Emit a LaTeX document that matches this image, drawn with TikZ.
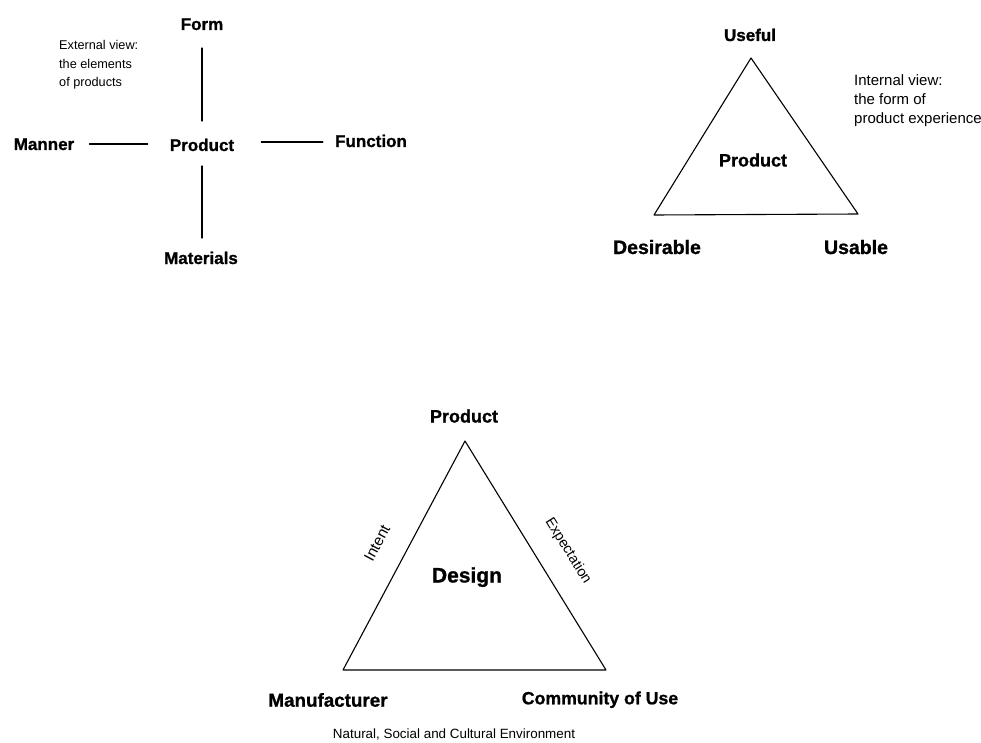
\documentclass[tikz,border=0pt]{standalone}
\usepackage{fontspec}
\usetikzlibrary{calc}
\newfontfamily\heavy{Liberation Sans Bold}[FakeBold=1.0]
\newfontfamily\plainsans{Liberation Sans}
\newcommand{\fs}[1]{\fontsize{#1}{#1}\selectfont}
\tikzset{
  lab/.style={font=\heavy\fs{#1}, inner sep=0pt, anchor=base},
  note/.style={font=\plainsans\fs{#1}, inner sep=0pt, anchor=base west},
  edgelab/.style={font=\plainsans\fs{#1}, inner sep=0pt, anchor=center},
  ln/.style={line width=1.1pt, line cap=round, line join=round},
}
\begin{document}
\begin{tikzpicture}[x=1pt,y=-1pt]
\useasboundingbox (0,0) rectangle (981,743);
\fill[white] (0,0) rectangle (981,743);

% ---------- External view ----------
\node[lab=17] (form) at (202,30) {Form};
\node[lab=17] (manner) at (44,150) {Manner};
\node[lab=17] (prod1) at (202,151) {Product};
\node[lab=17] (func) at (371,147) {Function};
\node[lab=17] (mat) at (201,264) {Materials};
\node[note=12.7] (ext1) at (59,50) {External view:};
\node[note=12.7] (ext2) at (59,68.5) {the elements};
\node[note=12.7] (ext3) at (59,87) {of products};

\draw[ln] ($(form.base)+(0,18)$) -- ($(prod1.base)+(0,-30)$);
\draw[ln] ($(prod1.base)+(0,15)$) -- ($(mat.base)+(1,-26)$);
\draw[ln] ($(manner.base east)+(15,-6)$) -- ($(prod1.base west)+(-22,-7)$);
\draw[ln] ($(prod1.base east)+(27,-9)$) -- ($(func.base west)+(-12,-5)$);

% ---------- Internal view ----------
\coordinate (ta) at (751,58);
\coordinate (tb) at (654,215);
\coordinate (tc) at (858,214);
\draw[ln] (ta) -- (tb) -- (tc) -- cycle;
\node[lab=17] (useful) at (750,41) {Useful};
\node[lab=18] (prod2) at (753,166.5) {Product};
\node[lab=19.5] (desir) at (657,254) {Desirable};
\node[lab=19.5] (usable) at (856,254) {Usable};
\node[note=15] (int1) at (854,86) {Internal view:};
\node[note=15] (int2) at (854,105) {the form of};
\node[note=15] (int3) at (854,124) {product experience};

% ---------- Design triangle ----------
\coordinate (da) at (465,441);
\coordinate (db) at (343,670);
\coordinate (dc) at (606,670);
\draw[ln] (da) -- (db) -- (dc) -- cycle;
\node[lab=18] (prod3) at (464,422.5) {Product};
\node[lab=21] (design) at (467,582.5) {Design};
\node[lab=18.8] (manuf) at (328,706.7) {Manufacturer};
\node[lab=17.7] (commu) at (600,704.3) {Community of Use};
\node[edgelab=15.3, rotate=62] (intent) at (377,543) {Intent};
\node[edgelab=14.3, rotate=-58] (expect) at (568,551) {Expectation};
\node[note=13.4, anchor=base] (envir) at (454,738) {Natural, Social and Cultural Environment};
\end{tikzpicture}
\end{document}
